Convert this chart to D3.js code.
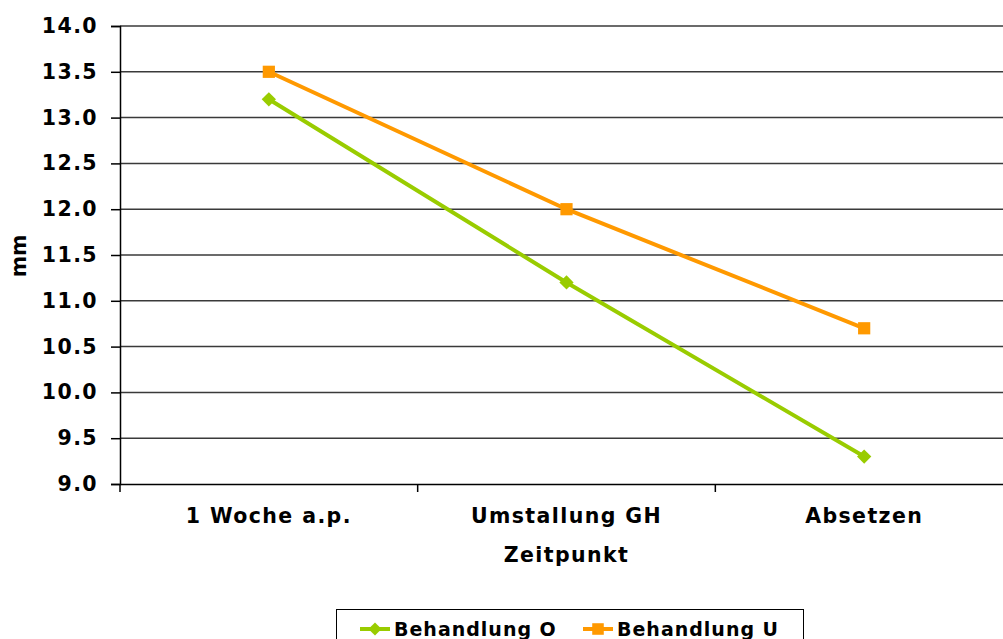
<!DOCTYPE html>
<html>
<head>
<meta charset="utf-8">
<script src="https://cdn.jsdelivr.net/npm/d3@7"></script>
<style>
  body { margin: 0; background: #fff; }
  svg { display: block; }
  text { font-family: "DejaVu Sans", Verdana, sans-serif; font-weight: bold; fill: #000; }
</style>
</head>
<body>
<div id="chart"></div>
<script>
"use strict";

// data
var categories = ["1 Woche a.p.", "Umstallung GH", "Absetzen"];
var seriesNames = ["Behandlung O", "Behandlung U"];
var valuesO = [13.2, 11.2, 9.3];
var valuesU = [13.5, 12.0, 10.7];
var yTicks = [9.0, 9.5, 10.0, 10.5, 11.0, 11.5, 12.0, 12.5, 13.0, 13.5, 14.0];
var colors = ["#99CC00", "#FF9900"];

var width = 1003, height = 639;
var plotLeft = 120, plotRight = 1013, plotTop = 26, plotBottom = 484;
var fontSize = "20.5px", spacing = "1.4px";

var svg = d3.select("#chart").append("svg")
    .attr("width", width)
    .attr("height", height);

var x = d3.scaleBand().domain(categories).range([plotLeft, plotRight]);
var y = d3.scaleLinear().domain([9, 14]).range([plotBottom, plotTop]);

//gridlines
svg.append("g")
    .selectAll("line")
    .data(yTicks.slice(1))
    .enter()
    .append("line")
    .attr("x1", plotLeft).attr("x2", plotRight)
    .attr("y1", function(d){ return y(d); })
    .attr("y2", function(d){ return y(d); })
    .attr("stroke", "#3a3a3a")
    .attr("stroke-width", 1.5);

//y axis
var yAxis = svg.append("g")
    .attr("transform", "translate(" + plotLeft + ",0)")
    .call(d3.axisLeft(y).tickValues(yTicks).tickFormat(d3.format(".1f")).tickSize(9).tickPadding(13));
yAxis.attr("font-family", null).attr("font-size", null);
yAxis.select(".domain").attr("stroke", "#000").attr("stroke-width", 1.5);
yAxis.selectAll(".tick line").attr("stroke", "#000").attr("stroke-width", 1.5);
yAxis.selectAll("text")
    .style("font-size", fontSize)
    .style("letter-spacing", spacing);

//x axis
var xAxis = svg.append("g")
    .attr("transform", "translate(0," + plotBottom + ")")
    .call(d3.axisBottom(x).tickSize(0).tickPadding(24));
xAxis.attr("font-family", null).attr("font-size", null);
xAxis.select(".domain").attr("stroke", "#000").attr("stroke-width", 1.5);
xAxis.selectAll("text")
    .style("font-size", fontSize)
    .style("letter-spacing", spacing);

//category separator ticks
svg.append("g")
    .selectAll("line")
    .data(categories)
    .enter()
    .append("line")
    .attr("x1", function(d){ return x(d); })
    .attr("x2", function(d){ return x(d); })
    .attr("y1", plotBottom).attr("y2", plotBottom + 8)
    .attr("stroke", "#000").attr("stroke-width", 1.5);

//axis titles
svg.append("text")
    .attr("x", (plotLeft + plotRight) / 2)
    .attr("y", 562)
    .attr("text-anchor", "middle")
    .style("font-size", fontSize)
    .style("letter-spacing", spacing)
    .text("Zeitpunkt");

svg.append("text")
    .attr("transform", "translate(26,256) rotate(-90)")
    .attr("text-anchor", "middle")
    .style("font-size", fontSize)
    .text("mm");

//series
var series = [valuesO, valuesU];
var line = d3.line()
    .x(function(d, i){ return x(categories[i]) + x.bandwidth() / 2; })
    .y(function(d){ return y(d); });

series.forEach(function(vals, si){
    svg.append("path")
        .datum(vals)
        .attr("d", line)
        .attr("fill", "none")
        .attr("stroke", colors[si])
        .attr("stroke-width", 4);

    var sym = si === 0 ? d3.symbolDiamond2 : d3.symbolSquare2;
    var size = si === 0 ? 130 : 190;
    svg.append("g")
        .selectAll("path")
        .data(vals)
        .enter()
        .append("path")
        .attr("transform", function(d, i){
            return "translate(" + (x(categories[i]) + x.bandwidth() / 2) + "," + y(d) + ")";
        })
        .attr("d", d3.symbol().type(sym).size(size))
        .attr("fill", colors[si]);
});

//legend
var legend = svg.append("g");
legend.append("rect")
    .attr("x", 336.5).attr("y", 609.5)
    .attr("width", 467).attr("height", 40)
    .attr("fill", "#fff")
    .attr("stroke", "#000")
    .attr("stroke-width", 1);

var legendX = [360, 583];
seriesNames.forEach(function(name, si){
    var g = legend.append("g").attr("transform", "translate(" + legendX[si] + ",629)");
    g.append("line")
        .attr("x1", 0).attr("x2", 30)
        .attr("stroke", colors[si]).attr("stroke-width", 4);
    g.append("path")
        .attr("transform", "translate(15,0)")
        .attr("d", d3.symbol().type(si === 0 ? d3.symbolDiamond2 : d3.symbolSquare2).size(si === 0 ? 110 : 170))
        .attr("fill", colors[si]);
    g.append("text")
        .attr("x", 34).attr("y", 7)
        .style("font-size", "19px")
        .style("letter-spacing", "1px")
        .text(name);
});
</script>
</body>
</html>
